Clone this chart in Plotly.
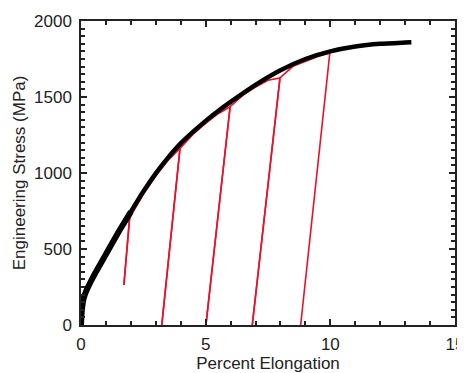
import plotly.graph_objects as go

# Black monotonic tensile curve (percent elongation, MPa)
curve_x = [0, 0.03, 0.1, 0.2, 0.5, 1.0, 1.5, 2.0, 2.5, 3.0, 3.5, 4.0, 4.5, 5.0, 5.5,
           6.0, 7.0, 8.0, 9.0, 10.0, 11.0, 12.0, 13.0, 13.25]
curve_y = [0, 90, 170, 220, 320, 465, 610, 745, 878, 998, 1103, 1195, 1272, 1343, 1408,
           1468, 1580, 1676, 1750, 1800, 1832, 1850, 1858, 1860]

# Red interrupted tests: reload path along the curve, peak, then unload line
reload_x = [[0, 0.1, 0.5, 1.0, 1.5],
            [2.5, 3.0, 3.5],
            [4.5, 5.0, 5.5],
            [6.5, 7.0, 7.5],
            [8.5, 9.0, 9.5]]
reload_y = [[0, 160, 305, 450, 595],
            [860, 980, 1085],
            [1255, 1326, 1390],
            [1512, 1565, 1610],
            [1702, 1737, 1767]]
peak_x = [1.95, 3.97, 5.98, 7.98, 9.98]
peak_y = [705, 1162, 1436, 1625, 1790]
end_x = [1.72, 3.24, 5.01, 6.87, 8.81]
end_y = [263, 0, 0, 0, 0]

fig = go.Figure()
for i in range(len(peak_x)):
    xs, ys = [], []
    if i > 0:
        xs += [end_x[i - 1], peak_x[i - 1]]
        ys += [end_y[i - 1], peak_y[i - 1]]
    xs += reload_x[i] + [peak_x[i], end_x[i]]
    ys += reload_y[i] + [peak_y[i], end_y[i]]
    fig.add_trace(go.Scatter(x=xs, y=ys, mode="lines",
                             line=dict(color="#e8102a", width=1.6),
                             showlegend=False, hoverinfo="skip"))

# black curve: slightly thicker in the early (dense-data) part
n_early = curve_x.index(2.0) + 1
fig.add_trace(go.Scatter(x=curve_x[:n_early], y=curve_y[:n_early], mode="lines",
                         line=dict(color="black", width=6, shape="spline", smoothing=0.5),
                         showlegend=False, hoverinfo="skip"))
fig.add_trace(go.Scatter(x=curve_x, y=curve_y, mode="lines",
                         line=dict(color="black", width=4.5, shape="spline", smoothing=0.5),
                         showlegend=False))

font = dict(family="Liberation Sans, Arial, sans-serif", size=17, color="#222")
tfont = dict(family="Liberation Sans, Arial, sans-serif", size=17, color="#222")
axis_common = dict(showline=True, linecolor="#222", linewidth=1.5, mirror="ticks",
                   ticks="inside", tickcolor="#222", tickwidth=1.5, ticklen=6,
                   showgrid=False, zeroline=False, tickfont=font, automargin=False)

fig.update_xaxes(range=[0, 15], tickvals=[0, 5, 10, 15],
                 minor=dict(dtick=1, ticks="inside", ticklen=4, tickcolor="#222", tickwidth=1.5),
                 title=dict(text="Percent Elongation", font=tfont, standoff=2),
                 ticklabelstandoff=3, **axis_common)
fig.update_yaxes(range=[0, 2000], tickvals=[0, 500, 1000, 1500, 2000],
                 minor=dict(dtick=50, ticks="inside", ticklen=4, tickcolor="#222", tickwidth=1.5),
                 title=dict(text="Engineering Stress (MPa)", font=tfont, standoff=4),
                 ticklabelstandoff=4, **axis_common)

# page body has an 8px default margin, so the figure is offset by (8, 8)
fig.update_layout(width=457, height=365, margin=dict(l=73, r=10, t=13, b=48),
                  plot_bgcolor="white", paper_bgcolor="white", font=font)

fig.write_html("out.html")
